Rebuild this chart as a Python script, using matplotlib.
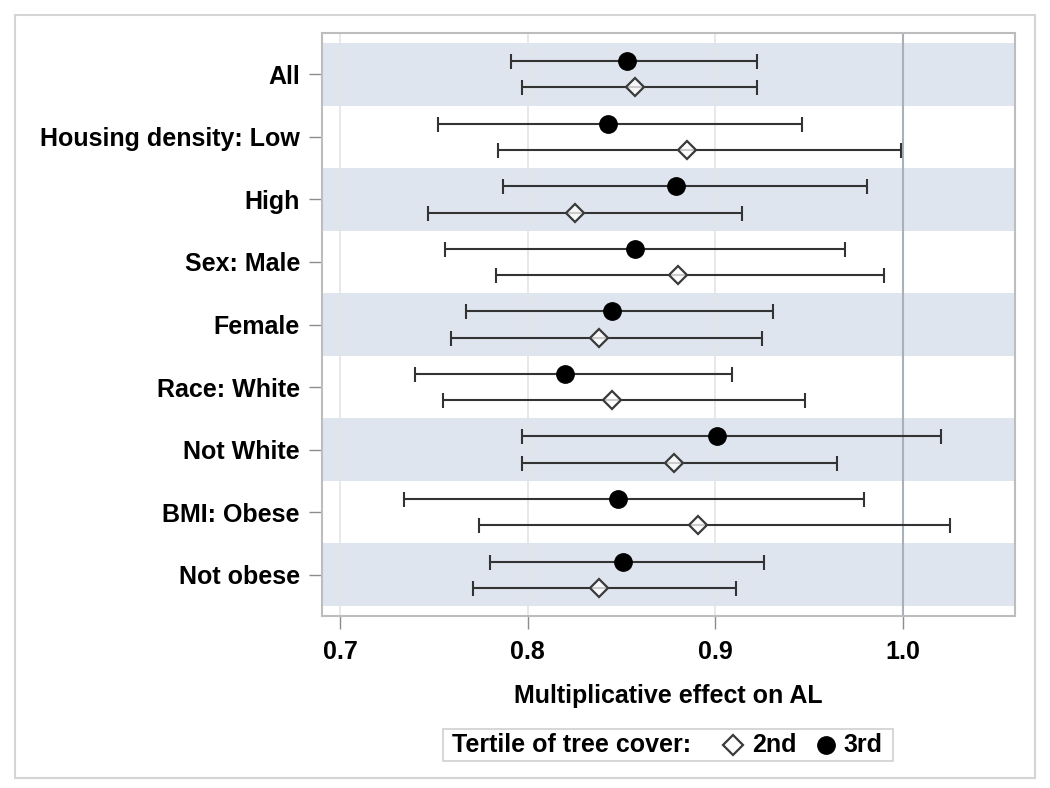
import matplotlib

matplotlib.use("Agg")
import matplotlib.pyplot as plt
import numpy as np
from matplotlib.lines import Line2D
from matplotlib.patches import Rectangle

plt.rcParams["font.family"] = ["Liberation Sans", "DejaVu Sans"]
plt.rcParams["font.weight"] = "bold"

# --- data ---
groups = ["All", "Housing density: Low", "High", "Sex: Male", "Female",
          "Race: White", "Not White", "BMI: Obese", "Not obese"]

est_3rd = [0.853, 0.843, 0.879, 0.857, 0.845, 0.820, 0.901, 0.848, 0.851]
lo_3rd = [0.791, 0.752, 0.787, 0.756, 0.767, 0.740, 0.797, 0.734, 0.780]
hi_3rd = [0.922, 0.946, 0.981, 0.969, 0.931, 0.909, 1.020, 0.979, 0.926]

est_2nd = [0.857, 0.885, 0.825, 0.880, 0.838, 0.845, 0.878, 0.891, 0.838]
lo_2nd = [0.797, 0.784, 0.747, 0.783, 0.759, 0.755, 0.797, 0.774, 0.771]
hi_2nd = [0.922, 0.999, 0.914, 0.990, 0.925, 0.948, 0.965, 1.025, 0.911]

xticks = [0.7, 0.8, 0.9, 1.0]
xtick_labels = ["0.7", "0.8", "0.9", "1.0"]

BAND = "#dfe5ef"
BAR = "#333333"
FS = 18

fig = plt.figure(figsize=(10.5, 7.88), dpi=100)
ax = fig.add_axes([322 / 1050, 1 - 616 / 788, (1015 - 322) / 1050, (616 - 33) / 788])

ypos = np.arange(len(groups))
off = 0.21

# alternating bands
for i in ypos[::2]:
    ax.axhspan(i - 0.5, i + 0.5, color=BAND, lw=0, zorder=0)

for xv in xticks[:-1]:
    ax.axvline(xv, color="#e4e4e4", lw=1.2, zorder=1)
ax.axvline(1.0, color="#a9b0b8", lw=1.5, zorder=1)

e3 = np.array(est_3rd)
e2 = np.array(est_2nd)
ax.errorbar(e3, ypos - off, xerr=[e3 - np.array(lo_3rd), np.array(hi_3rd) - e3],
            fmt="none", ecolor=BAR, elinewidth=1.5, capsize=5.4, capthick=1.5, zorder=2)
ax.errorbar(e2, ypos + off, xerr=[e2 - np.array(lo_2nd), np.array(hi_2nd) - e2],
            fmt="none", ecolor=BAR, elinewidth=1.5, capsize=5.4, capthick=1.5, zorder=2)
ax.plot(e3, ypos - off, "o", ms=12.5, color="black", zorder=4)
ax.plot(e2, ypos + off, "D", ms=9, mfc=(1, 1, 1, 0.75), mec="#3a3a3a", mew=1.6, zorder=4)

ax.set_xlim(0.6904, 1.0597)
ax.set_ylim(len(groups) - 1 + 0.66, -0.66)
ax.set_yticks(ypos)
ax.set_yticklabels(groups, fontsize=FS, fontweight="bold")
ax.set_xticks(xticks)
ax.set_xticklabels(xtick_labels, fontsize=FS, fontweight="bold")
ax.tick_params(axis="both", color="#8c8c8c", length=9.4, width=1.0)
ax.tick_params(axis="y", pad=6.5)
ax.tick_params(axis="x", pad=8)
for sp in ax.spines.values():
    sp.set_color("#bdbdbd")
    sp.set_linewidth(1.5)

ax.set_xlabel("Multiplicative effect on AL", fontsize=FS, fontweight="bold", labelpad=14)

# legend box drawn by hand (text + key markers in one framed row)
W, H = 1050, 788
fig.add_artist(Rectangle((443 / W, 1 - 761 / H), 450 / W, 32 / H, transform=fig.transFigure,
                         fill=False, ec="#cfcfcf", lw=1.2))
ly = 1 - 745 / H
fig.text(452 / W, ly, "Tertile of tree cover:", fontsize=FS, fontweight="bold", va="center")
fig.add_artist(Line2D([733 / W], [ly], marker="D", ms=10, mfc="none", mec="#3a3a3a", mew=1.6,
                      ls="none", transform=fig.transFigure))
fig.text(752 / W, ly, "2nd", fontsize=FS, fontweight="bold", va="center")
fig.add_artist(Line2D([826 / W], [ly], marker="o", ms=12.5, color="black",
                      ls="none", transform=fig.transFigure))
fig.text(843 / W, ly, "3rd", fontsize=FS, fontweight="bold", va="center")

# outer frame
fig.add_artist(Rectangle((15 / W, 1 - 778 / H), 1020 / W, 763 / H, transform=fig.transFigure,
                         fill=False, ec="#d4d4d4", lw=1.5))

fig.savefig("out.png", dpi=100)
